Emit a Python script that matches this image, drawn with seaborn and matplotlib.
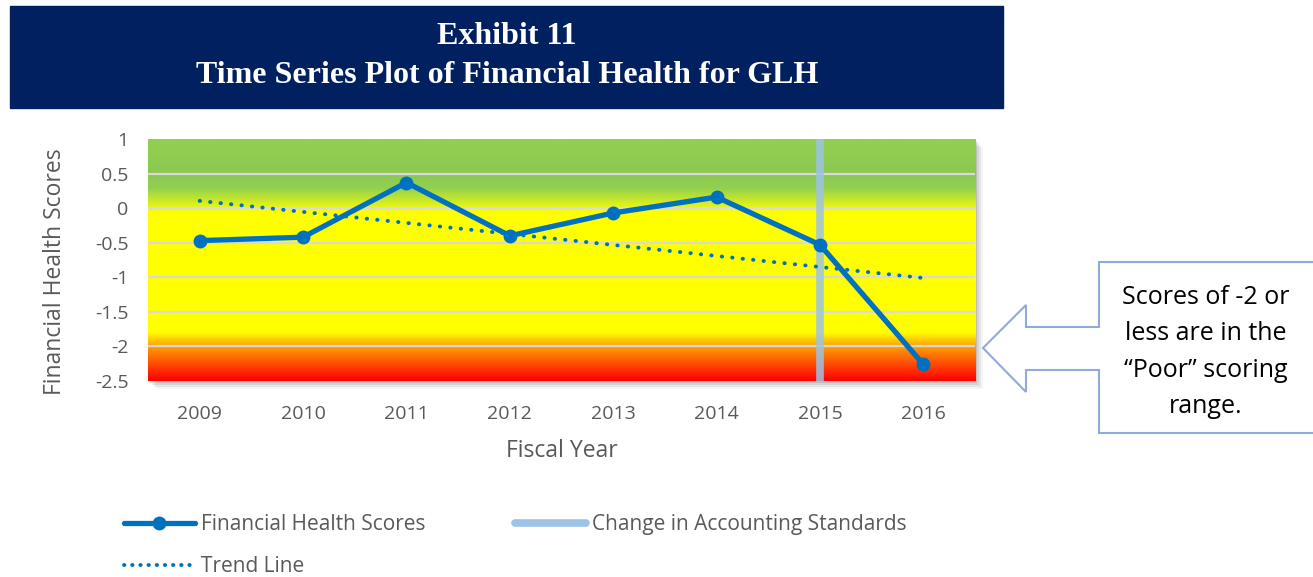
import numpy as np
import pandas as pd
import seaborn as sns
import matplotlib.pyplot as plt
from matplotlib.colors import LinearSegmentedColormap
from matplotlib.patches import Rectangle, Polygon
from matplotlib.lines import Line2D

# data
years = [2009, 2010, 2011, 2012, 2013, 2014, 2015, 2016]
scores = [-0.47, -0.42, 0.37, -0.40, -0.07, 0.16, -0.53, -2.26]
change_year = 2015
y_ticks = [1, 0.5, 0, -0.5, -1, -1.5, -2, -2.5]
y_tick_labels = ['1', '0.5', '0', '-0.5', '-1', '-1.5', '-2', '-2.5']

df = pd.DataFrame({'year': years, 'score': scores})

sns.set_style('white')
plt.rcParams['font.family'] = ['Open Sans', 'DejaVu Sans']
plt.rcParams['axes.unicode_minus'] = False

blue = '#0070C0'
gray_txt = '#595959'

fig = plt.figure(figsize=(13.13, 5.77), dpi=100)
ax = fig.add_axes([0.1127, 0.3397, 0.6299, 0.4194])

# drop shadow behind plot area
for i, a in enumerate([0.10, 0.08, 0.06, 0.04]):
    off = (i + 1) * 0.0015
    fig.patches.append(Rectangle((0.1127 + off, 0.3397 - off * 2.2), 0.6299, 0.4194,
                                 transform=fig.transFigure, color='black', alpha=a,
                                 zorder=-5, lw=0))

# background gradient
ymin, ymax = -2.5, 1.0
stops = [(-2.5, '#FF0000'), (-2.0, '#FFA000'), (-1.8, '#FFFF00'), (-0.05, '#FFFF00'),
         (0.3, '#92D050'), (0.5, '#8CC852'), (1.0, '#92D050')]
cmap = LinearSegmentedColormap.from_list('health', [((v - ymin) / (ymax - ymin), c) for v, c in stops])
grad = np.linspace(0, 1, 400).reshape(-1, 1)
ax.imshow(grad, cmap=cmap, origin='lower', aspect='auto',
          extent=[2008.5, 2016.5, ymin, ymax], zorder=0)

for t in y_ticks[1:-1]:
    ax.axhline(t, color='#D9D9D9', lw=1.6, zorder=1)

ax.axvline(change_year, color='#9DC3E6', lw=5.5, alpha=0.85, zorder=2)

sns.regplot(data=df, x='year', y='score', ax=ax, scatter=False, ci=None, truncate=True,
            line_kws={'color': blue, 'lw': 2.8, 'linestyle': (0, (0.1, 2.6)),
                      'dash_capstyle': 'round', 'zorder': 3})
sns.lineplot(data=df, x='year', y='score', ax=ax, color=blue, lw=3.8, marker='o',
             markersize=10, markeredgewidth=0, zorder=4)

ax.set_xlim(2008.5, 2016.5)
ax.set_ylim(ymin, ymax)
ax.set_xticks(years)
ax.set_xticklabels([str(y) for y in years])
ax.set_yticks(y_ticks)
ax.set_yticklabels(y_tick_labels)
ax.tick_params(axis='x', length=0, pad=17, labelsize=14, labelcolor=gray_txt)
ax.tick_params(axis='y', length=0, pad=14, labelsize=14, labelcolor=gray_txt)
ax.set_xlabel('Fiscal Year', fontsize=16.5, color=gray_txt, labelpad=12)
ax.set_ylabel('Financial Health Scores', fontsize=16.5, color=gray_txt, labelpad=10)
ax.yaxis.set_label_coords(-0.098, 0.45)
for s in ax.spines.values():
    s.set_visible(False)

# title banner
fig.patches.append(Rectangle((0.0076, 0.8128), 0.7564, 0.1768, transform=fig.transFigure,
                             color='#002060', zorder=0))
fig.text(0.386, 0.937, 'Exhibit 11', ha='center', va='center', color='white',
         fontsize=23, fontweight='bold', family='Liberation Serif')
fig.text(0.386, 0.870, 'Time Series Plot of Financial Health for GLH', ha='center',
         va='center', color='white', fontsize=23, fontweight='bold', family='Liberation Serif')

# callout arrow box (pixel coords converted to figure fraction)
W, H = 1313, 577
pts = [(983, 348), (1026, 305), (1026, 327), (1099, 327), (1099, 262), (1320, 262),
       (1320, 433), (1099, 433), (1099, 370), (1026, 370), (1026, 392)]
pts = [(x / W, 1 - y / H) for x, y in pts]
fig.patches.append(Polygon(pts, closed=True, transform=fig.transFigure, facecolor='white',
                           edgecolor='#8FAADC', lw=1.5, zorder=1))
fig.text(1206 / W, 1 - 352 / H, 'Scores of -2 or\nless are in the\n\u201cPoor\u201d scoring\nrange.',
         ha='center', va='center', fontsize=18, color='black', linespacing=1.6)

# legend
handles = [
    Line2D([], [], color=blue, lw=3.8, marker='o', markersize=10, markeredgewidth=0),
    Line2D([], [], color=blue, lw=2.8, linestyle=(0, (0.1, 2.0)), dash_capstyle='round'),
    Line2D([], [], color='#9DC3E6', lw=5.5),
]
labels = ['Financial Health Scores', 'Trend Line', 'Change in Accounting Standards']
fig.legend(handles, labels, loc='upper left', bbox_to_anchor=(0.080, 0.141), ncol=2,
           frameon=False, fontsize=15, labelcolor=gray_txt, handlelength=3.4,
           handletextpad=0.3, columnspacing=4.3, labelspacing=1.0)

fig.savefig('out.png', dpi=100)
